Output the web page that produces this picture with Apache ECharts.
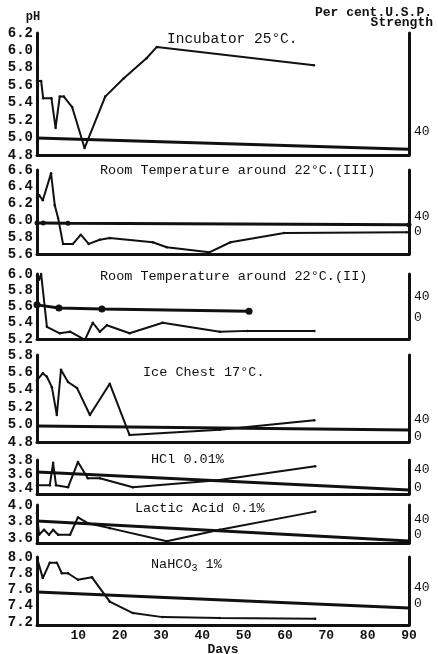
<!DOCTYPE html>
<html><head><meta charset="utf-8">
<script src="https://cdn.jsdelivr.net/npm/echarts@6/dist/echarts.min.js"></script>
<style>html,body{margin:0;padding:0;background:#fff}#c{width:438px;height:654px}</style>
</head><body><div id="c"></div>
<script>
// ---- data ----
const titles = ['Incubator 25°C.', 'Room Temperature around 22°C.(III)', 'Room Temperature around 22°C.(II)',
  'Ice Chest 17°C.', 'HCl 0.01%', 'Lactic Acid 0.1%', 'NaHCO{s|3} 1%'];
const dayTicks = [10, 20, 30, 40, 50, 60, 70, 80, 90];
const phTicks1 = [4.8, 5.0, 5.2, 5.4, 5.6, 5.8, 6.0, 6.2];
const phTicks2 = [5.6, 5.8, 6.0, 6.2, 6.4, 6.6];
const phTicks3 = [5.2, 5.4, 5.6, 5.8, 6.0];
const phTicks4 = [4.8, 5.0, 5.2, 5.4, 5.6, 5.8];
const phTicks5 = [3.4, 3.6, 3.8];
const phTicks6 = [3.6, 3.8, 4.0];
const phTicks7 = [7.2, 7.4, 7.6, 7.8, 8.0];
const strTicks1 = [40];
const strTicks = [0, 40];

const phDays1 = [0, 1, 1.5, 3.5, 4.5, 5.5, 6.5, 8.5, 11.5, 16.5, 21, 26.5, 29, 67];
const phVals1 = [5.65, 5.65, 5.45, 5.45, 5.11, 5.47, 5.47, 5.35, 4.88, 5.47, 5.68, 5.91, 6.04, 5.83];
const strDays1 = [0, 90];
const strVals1 = [29.6, 10];

const phDays2 = [0, 0.5, 1.4, 3.4, 4.3, 5.1, 6.3, 8.7, 10.6, 12.5, 15.2, 17.6, 28, 31.4, 41.7, 46.8, 59.8, 89.5];
const phVals2 = [6.27, 6.30, 6.24, 6.56, 6.18, 6.03, 5.72, 5.72, 5.83, 5.72, 5.77, 5.79, 5.74, 5.68, 5.62, 5.74, 5.85, 5.86];
const strDays2 = [0, 1.5, 7.5, 90];
const strVals2 = [24, 24, 23.5, 19];

const phDays3 = [0, 0.5, 1, 2.4, 5.5, 8, 11.6, 13.5, 15.2, 16.9, 22.4, 30.4, 44.2, 50.9, 67.1];
const phVals3 = [5.98, 5.93, 6.0, 5.35, 5.27, 5.29, 5.19, 5.40, 5.29, 5.37, 5.27, 5.40, 5.29, 5.30, 5.30];
const strDays3 = [0, 5.3, 15.7, 51.3];
const strVals3 = [25, 19, 17, 13];

const phDays4 = [0, 1.4, 2.4, 3.6, 4.8, 5.8, 7.5, 9.7, 12.8, 17.6, 22.4, 44.2, 67.1];
const phVals4 = [5.51, 5.59, 5.55, 5.43, 5.11, 5.63, 5.49, 5.42, 5.11, 5.47, 4.88, 4.94, 5.05];
const strDays4 = [0, 90];
const strVals4 = [26, 16.5];

const phDays5 = [0, 3.1, 3.9, 4.6, 7.5, 9.9, 12.3, 15.2, 23.2, 43.7, 67.3];
const phVals5 = [3.44, 3.44, 3.76, 3.44, 3.41, 3.77, 3.54, 3.54, 3.41, 3.51, 3.71];
const strDays5 = [0, 90];
const strVals5 = [35.6, -4.4];

const phDays6 = [0, 0.5, 1.7, 2.9, 3.9, 5.1, 8, 9.9, 12.3, 17.6, 31.4, 44.2, 67.3];
const phVals6 = [3.9, 3.64, 3.70, 3.64, 3.70, 3.64, 3.64, 3.85, 3.78, 3.72, 3.56, 3.70, 3.92];
const strDays6 = [0, 90];
const strVals6 = [37.3, -16];

const phDays7 = [0, 1.4, 3.1, 4.8, 6, 7.5, 9.9, 13.3, 17.6, 23.2, 30.4, 44.2, 67.3];
const phVals7 = [7.99, 7.74, 7.93, 7.93, 7.80, 7.80, 7.72, 7.75, 7.45, 7.31, 7.26, 7.25, 7.24];
const strDays7 = [0, 90];
const strVals7 = [30, -10];

// ---- layout ----
const gridTops = [33, 170, 274, 355, 460, 505, 557];
const gridBottoms = [155, 254, 339, 442, 494, 543, 625];
const phMin = [4.8, 5.6, 5.2, 4.8, 3.314, 3.54, 7.163];
const phMax = [6.2, 6.6, 6.0, 5.8, 3.8, 4.0, 8.0];
const strMin = [0, -58.7, -40, -11.8, -13.3, -21.3, -52.5];
const strMax = [212, 165.3, 83.8, 193, 62.2, 80, 117.5];
const titleX = [167, 100, 100, 143, 151, 135, 151];
const titleY = [39, 170, 276, 372, 459, 508, 564];

const phDays = [phDays1, phDays2, phDays3, phDays4, phDays5, phDays6, phDays7];
const phVals = [phVals1, phVals2, phVals3, phVals4, phVals5, phVals6, phVals7];
const strDays = [strDays1, strDays2, strDays3, strDays4, strDays5, strDays6, strDays7];
const strVals = [strVals1, strVals2, strVals3, strVals4, strVals5, strVals6, strVals7];
const phTicks = [phTicks1, phTicks2, phTicks3, phTicks4, phTicks5, phTicks6, phTicks7];

const ink = '#111';
const mono = '"Liberation Mono","DejaVu Sans Mono",monospace';
const zip = (a, b) => a.map((v, i) => [v, b[i]]);

const grid = [], xAxis = [], yAxis = [], series = [], graphic = [];
for (let i = 0; i < 7; i++) {
  const last = i === 6;
  grid.push({left: 37, right: 29, top: gridTops[i], height: gridBottoms[i] - gridTops[i],
    containLabel: false, outerBoundsMode: 'none'});
  xAxis.push({type: 'value', gridIndex: i, min: 0, max: 90, interval: 10,
    axisLine: {show: true, onZero: false, lineStyle: {color: ink, width: 3}},
    axisTick: {show: false}, splitLine: {show: false},
    axisLabel: {show: last, margin: 4, color: ink, fontFamily: mono, fontWeight: 'bold', fontSize: 13,
      formatter: v => (dayTicks.indexOf(v) >= 0 ? String(v) : '')},
    name: last ? 'Days' : '', nameLocation: 'middle', nameGap: 17,
    nameTextStyle: {color: ink, fontFamily: mono, fontWeight: 'bold', fontSize: 13}});
  yAxis.push({type: 'value', gridIndex: i, min: phMin[i], max: phMax[i], position: 'left',
    axisLine: {show: true, onZero: false, lineStyle: {color: ink, width: 3}},
    axisTick: {show: false}, splitLine: {show: false},
    axisLabel: {customValues: phTicks[i], margin: 4, color: ink, fontFamily: mono, fontWeight: 'bold', fontSize: 14,
      formatter: v => v.toFixed(1)}});
  yAxis.push({type: 'value', gridIndex: i, min: strMin[i], max: strMax[i], position: 'right',
    axisLine: {show: true, onZero: false, lineStyle: {color: ink, width: 3}},
    axisTick: {show: false}, splitLine: {show: false},
    axisLabel: {customValues: i === 0 ? strTicks1 : strTicks, margin: 5, color: ink, fontFamily: mono, fontSize: 13,
      formatter: v => String(v)}});
  series.push({type: 'line', xAxisIndex: i, yAxisIndex: 2 * i, data: zip(phDays[i], phVals[i]),
    symbol: 'circle', symbolSize: 2.5, showSymbol: true, itemStyle: {color: ink},
    lineStyle: {color: ink, width: 2}, animation: false, silent: true});
  series.push({type: 'line', xAxisIndex: i, yAxisIndex: 2 * i + 1, data: zip(strDays[i], strVals[i]),
    symbol: 'circle', symbolSize: i === 2 ? 7 : (i === 1 ? 5 : 0), showSymbol: i === 1 || i === 2,
    itemStyle: {color: ink}, lineStyle: {color: ink, width: 3}, animation: false, silent: true});
  graphic.push({type: 'text', x: titleX[i], y: titleY[i], silent: true,
    style: {text: titles[i], fill: ink, font: (i === 0 ? '14.5px ' : '13.5px ') + mono,
      textVerticalAlign: 'middle', rich: {s: {fontSize: 10, fontFamily: mono, fill: ink, padding: [8, 0, 0, 0]}}}});
}
graphic.push({type: 'text', x: 33, y: 17, style: {text: 'pH', fill: ink, font: 'bold 12px ' + mono, textAlign: 'center', textVerticalAlign: 'middle'}});
graphic.push({type: 'text', x: 432, y: 13, style: {text: 'Per cent.U.S.P.', fill: ink, font: 'bold 13px ' + mono, textAlign: 'right', textVerticalAlign: 'middle'}});
graphic.push({type: 'text', x: 433, y: 23, style: {text: 'Strength', fill: ink, font: 'bold 13px ' + mono, textAlign: 'right', textVerticalAlign: 'middle'}});

const chart = echarts.init(document.getElementById('c'), null, {renderer: 'canvas'});
chart.setOption({backgroundColor: '#fff', animation: false, grid, xAxis, yAxis, series, graphic});
</script></body></html>
